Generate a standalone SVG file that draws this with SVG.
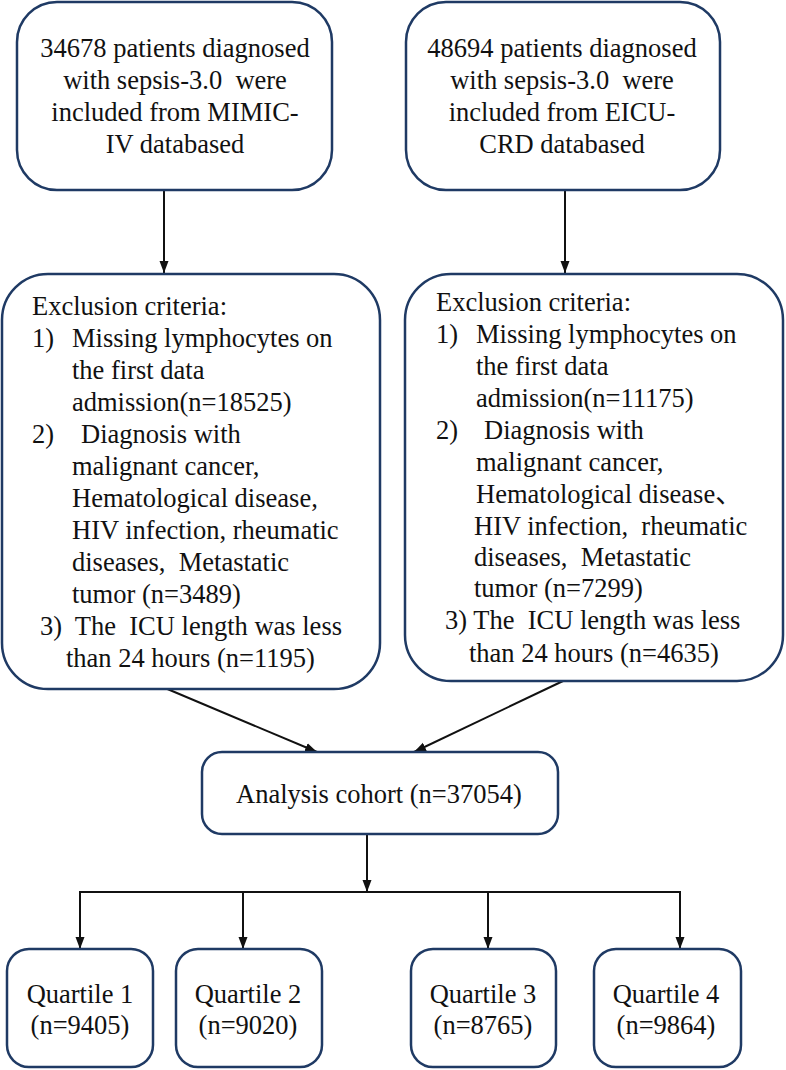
<svg xmlns="http://www.w3.org/2000/svg" width="786" height="1070" viewBox="0 0 786 1070">
<style>
.box{fill:#fff;stroke:#1f3a64;stroke-width:2.5}
.t{font-family:"Liberation Serif","Times New Roman",serif;font-size:26.5px;fill:#111;white-space:pre}
.c{text-anchor:middle}
.ln{fill:none;stroke:#111;stroke-width:2}
</style>
<defs>
<marker id="ah" markerUnits="userSpaceOnUse" markerWidth="12" markerHeight="12" viewBox="0 0 12 12" refX="12" refY="6" orient="auto">
<path d="M0,1.5 L12,6 L0,10.5 Z" fill="#111"/>
</marker>
</defs>
<rect width="786" height="1070" fill="#fff"/>
<g id="connectors">
<line class="ln" x1="164" y1="190" x2="164" y2="273" marker-end="url(#ah)"/>
<line class="ln" x1="565" y1="190" x2="565" y2="273" marker-end="url(#ah)"/>
<line class="ln" x1="165" y1="688" x2="317" y2="752" marker-end="url(#ah)"/>
<line class="ln" x1="563" y1="681" x2="414" y2="752" marker-end="url(#ah)"/>
<line class="ln" x1="367" y1="834" x2="367" y2="892" marker-end="url(#ah)"/>
<polyline class="ln" points="80,949 80,892 680,892 680,949"/>
<line class="ln" x1="80" y1="892" x2="80" y2="949" marker-end="url(#ah)"/>
<line class="ln" x1="243" y1="892" x2="243" y2="949" marker-end="url(#ah)"/>
<line class="ln" x1="488" y1="892" x2="488" y2="949" marker-end="url(#ah)"/>
<line class="ln" x1="680" y1="892" x2="680" y2="949" marker-end="url(#ah)"/>
</g>
<g id="mimic">
<rect class="box" x="17" y="2" width="315" height="188" rx="40"/>
<text class="t c" x="175" y="57">34678 patients diagnosed</text>
<text class="t c" x="175" y="89">with sepsis-3.0  were</text>
<text class="t c" x="175" y="121">included from MIMIC-</text>
<text class="t c" x="175" y="153">IV databased</text>
</g>
<g id="eicu">
<rect class="box" x="406" y="2" width="314" height="188" rx="40"/>
<text class="t c" x="562" y="57">48694 patients diagnosed</text>
<text class="t c" x="562" y="89">with sepsis-3.0  were</text>
<text class="t c" x="562" y="121">included from EICU-</text>
<text class="t c" x="562" y="153">CRD databased</text>
</g>
<g id="excl-mimic">
<rect class="box" x="2" y="274" width="378" height="415" rx="46"/>
<text class="t" x="32" y="315">Exclusion criteria:</text>
<text class="t" x="32" y="347">1)</text>
<text class="t" x="72" y="347">Missing lymphocytes on</text>
<text class="t" x="72" y="379">the first data</text>
<text class="t" x="72" y="411">admission(n=18525)</text>
<text class="t" x="32" y="443">2)</text>
<text class="t" x="81" y="443">Diagnosis with</text>
<text class="t" x="72" y="475">malignant cancer,</text>
<text class="t" x="72" y="507">Hematological disease,</text>
<text class="t" x="72" y="539">HIV infection, rheumatic</text>
<text class="t" x="72" y="571">diseases,  Metastatic</text>
<text class="t" x="72" y="603">tumor (n=3489)</text>
<text class="t" x="40" y="635">3)  The  ICU length was less</text>
<text class="t" x="66" y="667">than 24 hours (n=1195)</text>
</g>
<g id="excl-eicu">
<rect class="box" x="405" y="274" width="378" height="407" rx="46"/>
<text class="t" x="436" y="311">Exclusion criteria:</text>
<text class="t" x="436" y="343">1)</text>
<text class="t" x="476" y="343">Missing lymphocytes on</text>
<text class="t" x="476" y="375">the first data</text>
<text class="t" x="476" y="407">admission(n=11175)</text>
<text class="t" x="436" y="439">2)</text>
<text class="t" x="484" y="439">Diagnosis with</text>
<text class="t" x="476" y="471">malignant cancer,</text>
<text class="t" x="476" y="503">Hematological disease<tspan font-family="'Noto Sans CJK SC',sans-serif">、</tspan></text>
<text class="t" x="474" y="535">HIV infection,  rheumatic</text>
<text class="t" x="474" y="566">diseases,  Metastatic</text>
<text class="t" x="474" y="597">tumor (n=7299)</text>
<text class="t" x="445" y="629">3) The  ICU length was less</text>
<text class="t" x="469" y="662">than 24 hours (n=4635)</text>
</g>
<g id="cohort">
<rect class="box" x="202" y="752" width="356" height="82" rx="20"/>
<text class="t c" x="379" y="803">Analysis cohort (n=37054)</text>
</g>
<g id="q1">
<rect class="box" x="7" y="949" width="146" height="118" rx="22"/>
<text class="t c" x="80" y="1003">Quartile 1</text>
<text class="t c" x="80" y="1034">(n=9405)</text>
</g>
<g id="q2">
<rect class="box" x="176" y="949" width="146" height="118" rx="22"/>
<text class="t c" x="248" y="1003">Quartile 2</text>
<text class="t c" x="248" y="1034">(n=9020)</text>
</g>
<g id="q3">
<rect class="box" x="411" y="949" width="145" height="118" rx="22"/>
<text class="t c" x="483" y="1003">Quartile 3</text>
<text class="t c" x="483" y="1034">(n=8765)</text>
</g>
<g id="q4">
<rect class="box" x="594" y="949" width="147" height="118" rx="22"/>
<text class="t c" x="666" y="1003">Quartile 4</text>
<text class="t c" x="666" y="1034">(n=9864)</text>
</g>
</svg>
